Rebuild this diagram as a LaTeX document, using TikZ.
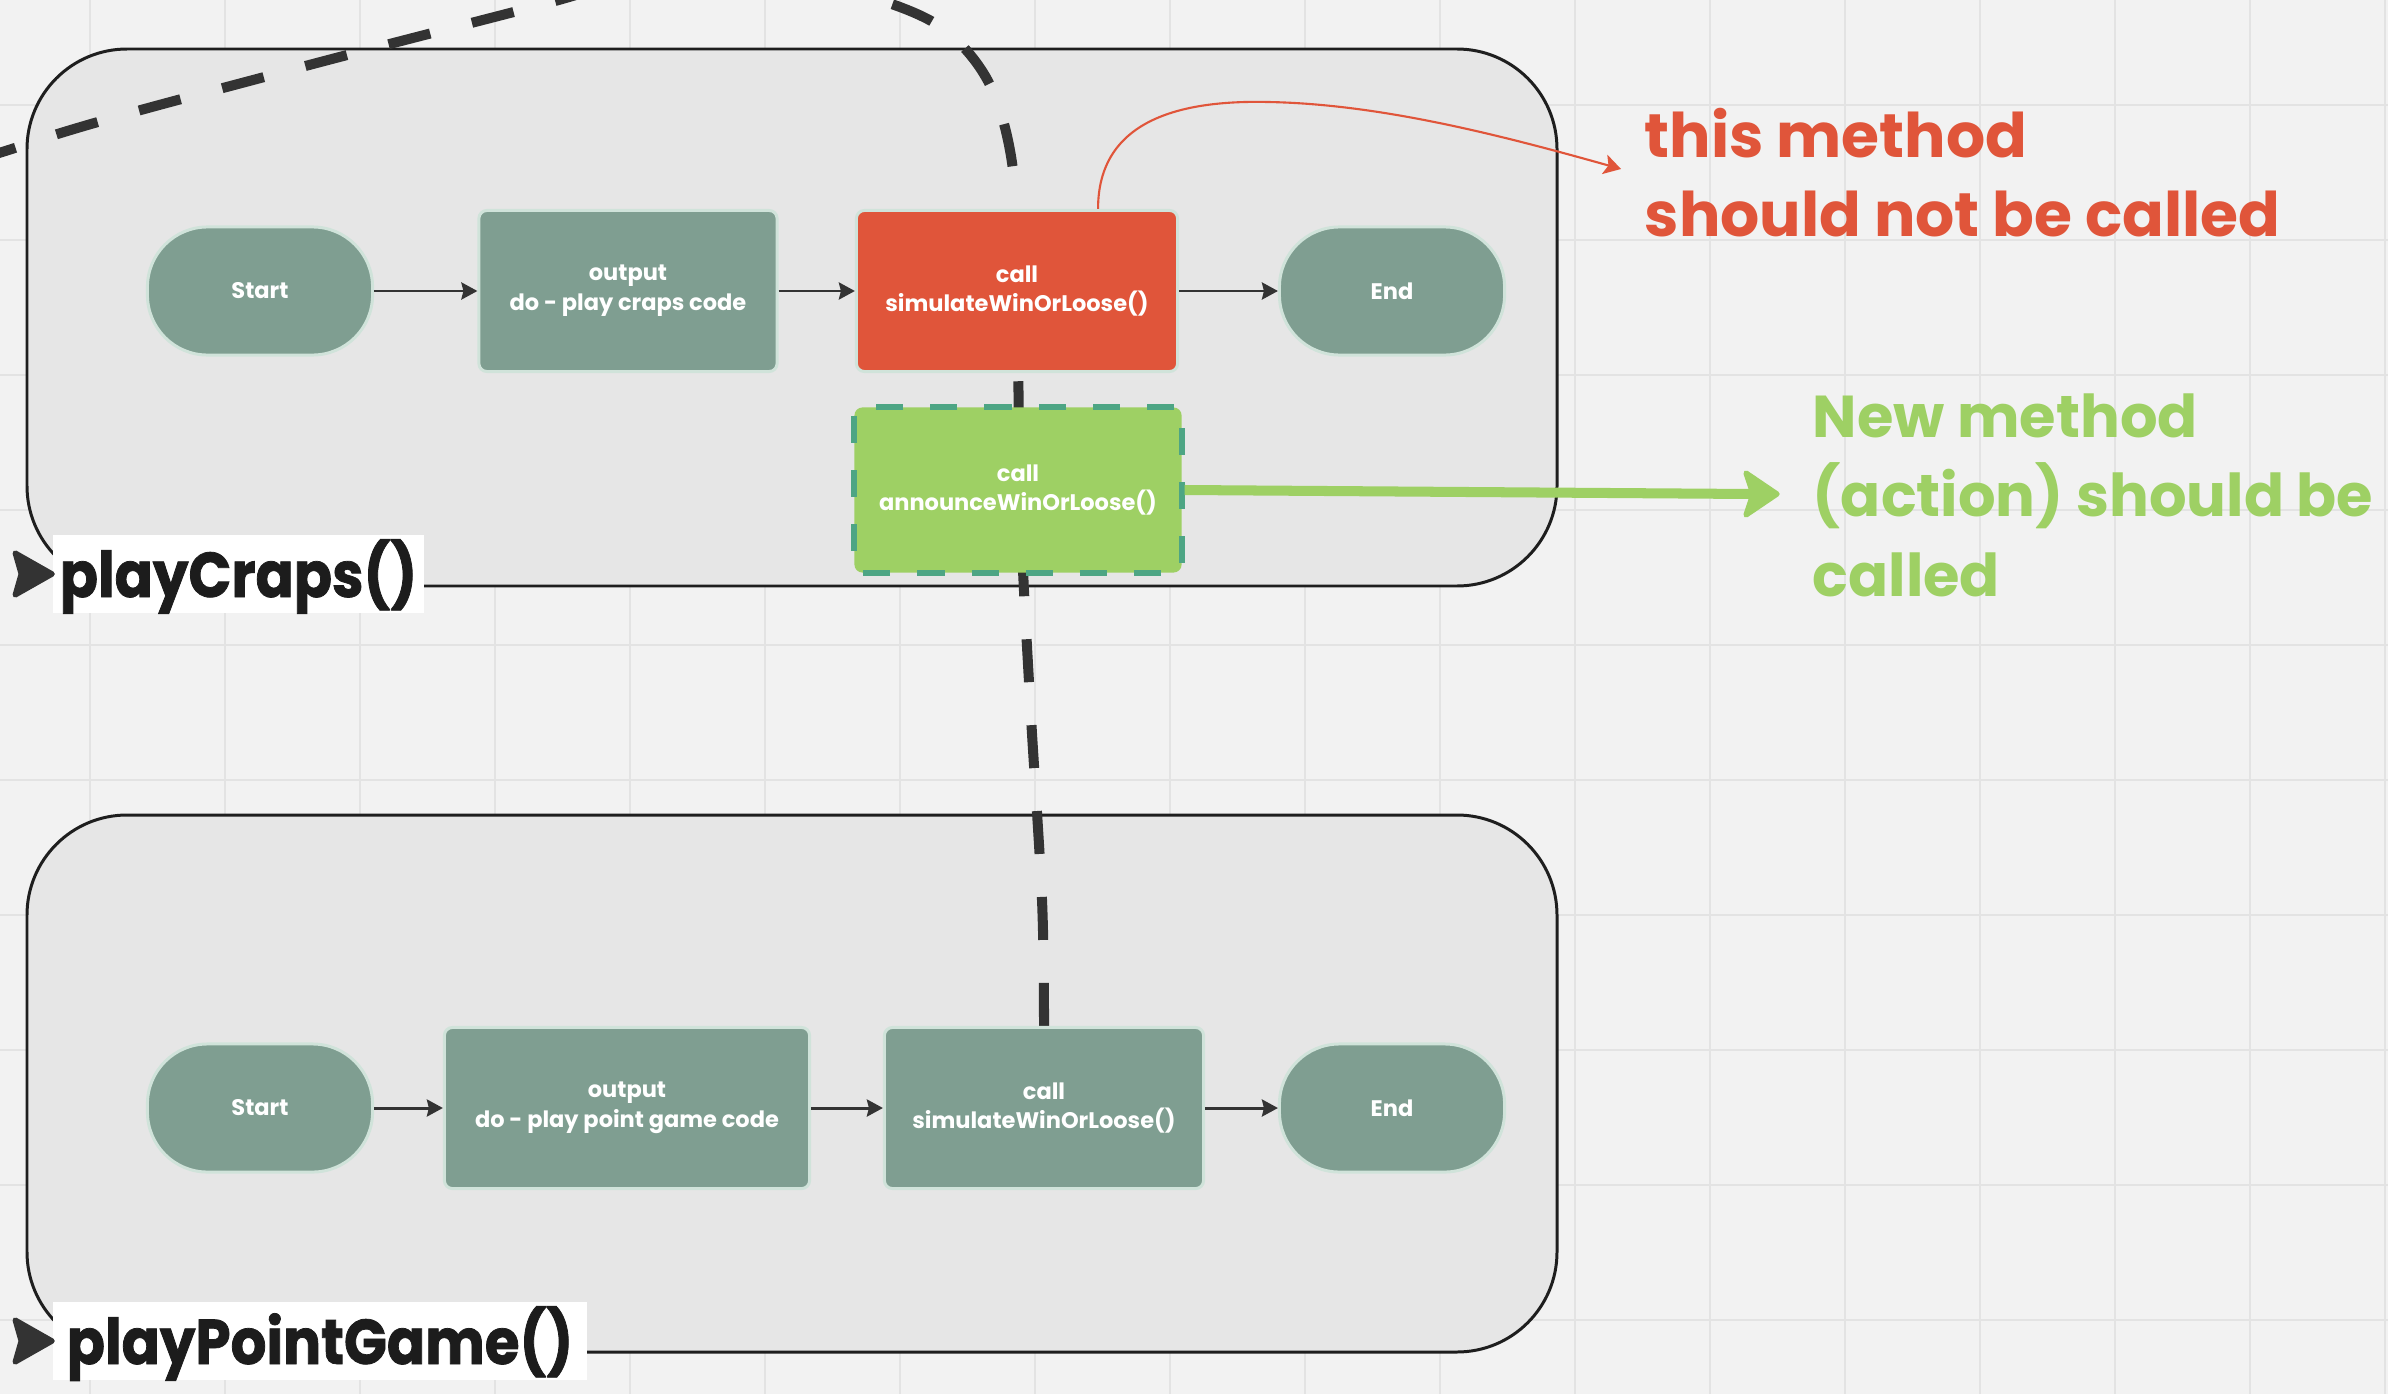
\documentclass[tikz,border=0pt]{standalone}
\usepackage{fontspec}
\setmainfont{Poppins}
\newfontfamily\lblfont{Poppins}[FakeBold=1.2,FakeStretch=0.89]
\usetikzlibrary{arrows.meta}
\pgfdeclarelayer{bg}
\pgfdeclarelayer{back}
\pgfsetlayers{bg,back,main}
\definecolor{bgc}{HTML}{F2F2F2}
\definecolor{gridc}{HTML}{E3E3E3}
\definecolor{cfill}{HTML}{E6E6E6}
\definecolor{cborder}{HTML}{1E1E1E}
\definecolor{sage}{HTML}{7F9E91}
\definecolor{mint}{HTML}{D0E3DA}
\definecolor{redc}{HTML}{E0553A}
\definecolor{greenc}{HTML}{9ED064}
\definecolor{tealc}{HTML}{4DA584}
\definecolor{darkc}{HTML}{333333}
\definecolor{lblc}{HTML}{1C1C1C}
\tikzset{
  gridl/.style={draw=gridc, line width=0.6pt},
  container/.style={draw=cborder, line width=0.85pt, fill=cfill, rounded corners=1cm},
  flowbox/.style={draw=mint, line width=0.85pt, fill=sage, rounded corners=0.08cm,
    text=white, font=\fontsize{6.4}{8.5}\selectfont\bfseries, align=center, inner sep=0pt},
  term/.style={flowbox, rounded corners=0.6cm, minimum width=2.25cm, minimum height=1.28cm},
  proc/.style={flowbox, minimum height=1.61cm},
  flow/.style={draw=darkc, line width=0.85pt, -{Stealth[length=0.16cm,width=0.17cm,inset=0.02cm]}},
  callline/.style={draw=darkc, line width=2.85pt, dash pattern=on 0.43cm off 0.43cm},
  chev/.style={draw=darkc, fill=darkc, line width=1.5pt, line join=round},
  gchev/.style={draw=greenc, fill=greenc, line width=1.5pt, line join=round},
  redline/.style={draw=redc, line width=0.6pt, -{Stealth[length=0.17cm,width=0.2cm,inset=0.04cm]}},
  greenline/.style={draw=greenc, line width=2.85pt},
  annot/.style={font=\fontsize{17.5}{22.5}\selectfont\bfseries, align=left, inner sep=0pt},
  lbl/.style={fill=white, inner sep=0pt, minimum height=0.78cm, text height=0.62cm, text depth=0.16cm,
    font=\lblfont\bfseries\fontsize{18}{22}\selectfont, text=lblc}
}
\begin{document}
\begin{tikzpicture}[x=0.01cm, y=-0.01cm]
\useasboundingbox (0,0) rectangle (2388,1394);
\begin{pgfonlayer}{bg}
  \fill[bgc] (0,0) rectangle (2388,1394);
  \foreach \gx in {90,225,...,2385} \draw[gridl] (\gx,0) -- (\gx,1394);
  \foreach \gy in {105,240,...,1320} \draw[gridl] (0,\gy) -- (2388,\gy);
  \draw[container] (27,49) rectangle (1557,586);
  \draw[container] (27,815) rectangle (1557,1352);
\end{pgfonlayer}

% top flow
\node[term] (tstart) at (260,291) {Start};
\node[proc, minimum width=2.98cm] (tout) at (628,291) {output\\do - play craps code};
\node[proc, fill=redc, minimum width=3.21cm] (rcall) at (1017,291) {call\\simulateWinOrLoose()};
\node[term] (tend) at (1392,291) {End};
\node[proc, fill=greenc, draw=tealc, line width=1.7pt, dash pattern=on 0.27cm off 0.27cm,
      minimum width=3.27cm, minimum height=1.65cm] (gcall) at (1018,490) {call\\announceWinOrLoose()};

% bottom flow
\node[term] (bstart) at (260,1108) {Start};
\node[proc, minimum width=3.65cm] (bout) at (627,1108) {output\\do - play point game code};
\node[proc, minimum width=3.19cm] (bcall) at (1044,1108) {call\\simulateWinOrLoose()};
\node[term] (bend) at (1392,1108) {End};

\draw[flow] (tstart) -- (tout);
\draw[flow] (tout) -- (rcall);
\draw[flow] (rcall) -- (tend);
\draw[flow] (bstart) -- (bout);
\draw[flow] (bout) -- (bcall);
\draw[flow] (bcall) -- (bend);

% labels with chevrons
\node[lbl, minimum width=3.71cm] (pcl) at (238.5,574) {playCraps()};
\node[lbl, minimum width=5.34cm] (ppl) at (320,1341) {playPointGame()};
\filldraw[chev] (pcl.west) -- ++(-37,-21) -- ++(6,21) -- ++(-6,21) -- cycle;
\filldraw[chev] (ppl.west) -- ++(-37,-21) -- ++(6,21) -- ++(-6,21) -- cycle;

% dashed call connector
\begin{pgfonlayer}{back}
  \clip (0,0) rectangle (2388,1394);
  \draw[callline] plot[smooth, tension=0.55] coordinates {(bcall.north) (1042,900) (1030,700)
    (1021,520) (1017,300) (1013,170) (990,85) (945,30) (880,0) (790,-22) (700,-28) (610,-14)
    (533,7) (283,72) (33,142) (-120,210) (-200,380) (-120,540) (-20,575) ([xshift=-0.31cm]pcl.west)};
\end{pgfonlayer}

% annotations
\node[annot, text=redc, anchor=base west] (redtxt) at (1644,237) {this method\\should not be called};
\node[annot, text=greenc, anchor=base west, font=\fontsize{16.8}{22.5}\selectfont\bfseries] (greentxt) at (1812,596) {New method\\(action) should be\\called};
\coordinate (rtip) at (1621,169);
\coordinate (gtip) at (1777,494);
\draw[redline] ([xshift=0.81cm]rcall.north) .. controls (1098,120) and (1180,100) .. (1268,102)
  .. controls (1380,104) and (1500,135) .. (rtip);
\draw[greenline] (gcall.east) -- ([xshift=-0.26cm]gtip);
\filldraw[gchev] (gtip) -- ++(-31,-21) -- ++(7,21) -- ++(-7,21) -- cycle;
\end{tikzpicture}
\end{document}
